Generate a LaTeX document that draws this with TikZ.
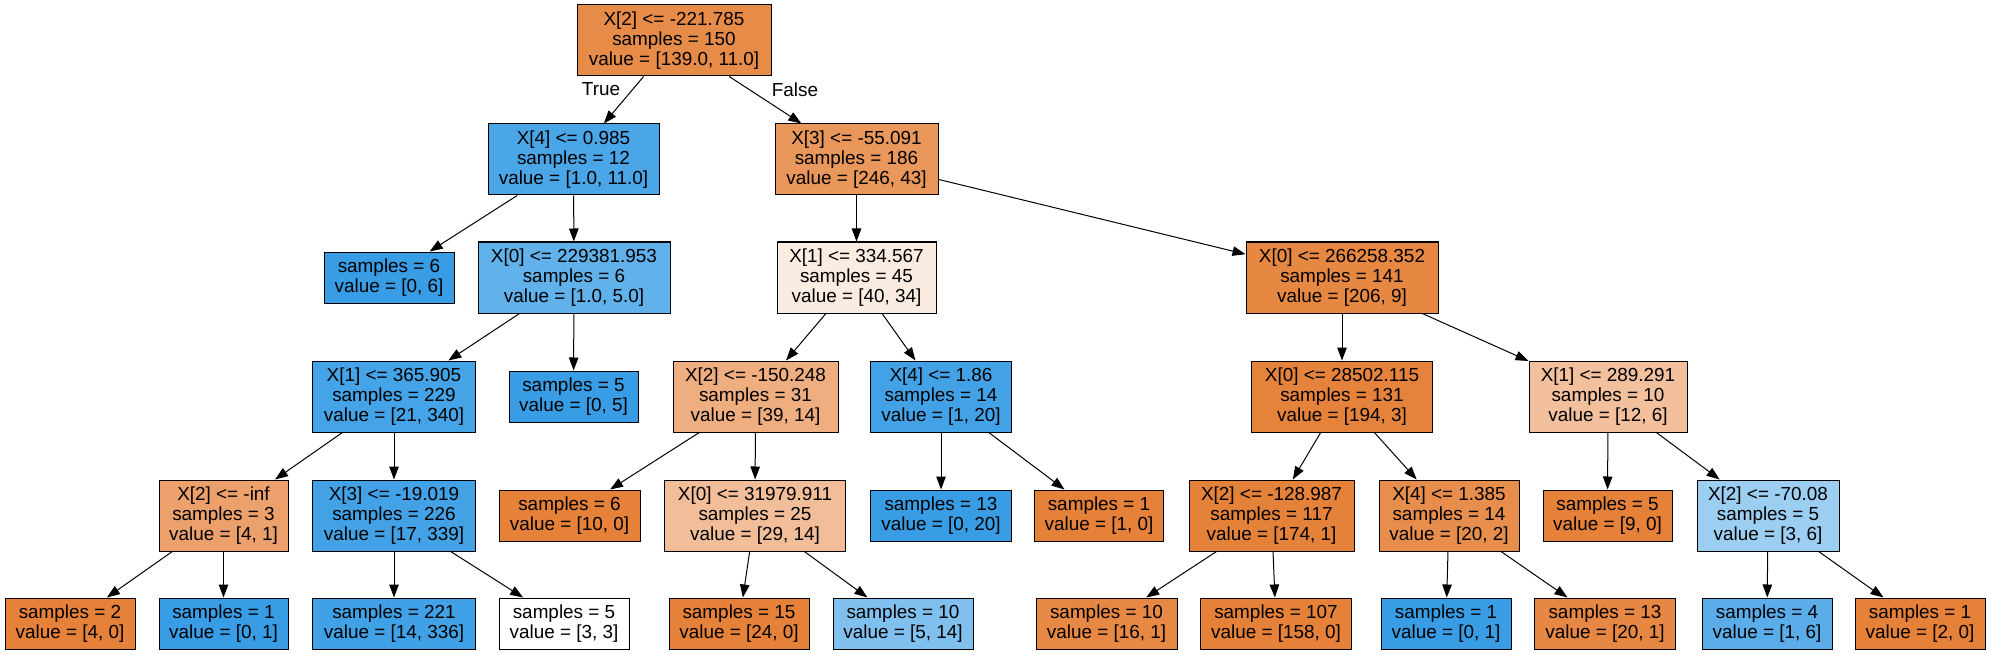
\documentclass[tikz,border=0pt]{standalone}
\usepackage{fontspec}
\setmainfont{Liberation Sans}
\usetikzlibrary{arrows.meta}
\definecolor{OR}{RGB}{229,129,57}
\definecolor{BL}{RGB}{57,157,229}
\definecolor{c0}{RGB}{231,139,73}
\definecolor{c1}{RGB}{75,166,231}
\definecolor{c2}{RGB}{234,151,92}
\definecolor{c4}{RGB}{97,177,234}
\definecolor{c5}{RGB}{251,236,225}
\definecolor{c6}{RGB}{230,135,66}
\definecolor{c7}{RGB}{69,163,231}
\definecolor{c9}{RGB}{238,174,128}
\definecolor{c10}{RGB}{67,162,230}
\definecolor{c11}{RGB}{229,131,60}
\definecolor{c12}{RGB}{242,192,156}
\definecolor{c13}{RGB}{236,160,107}
\definecolor{c14}{RGB}{67,162,230}
\definecolor{c16}{RGB}{242,190,153}
\definecolor{c19}{RGB}{229,130,58}
\definecolor{c20}{RGB}{232,142,77}
\definecolor{c22}{RGB}{156,206,242}
\definecolor{c25}{RGB}{65,161,230}
\definecolor{c28}{RGB}{128,192,238}
\definecolor{c29}{RGB}{231,137,69}
\definecolor{c32}{RGB}{230,135,67}
\definecolor{c33}{RGB}{90,173,233}
\tikzset{
  box/.style={draw=black, line width=1pt, inner sep=0pt, align=center,
    font=\fontsize{18.9}{20}\selectfont},
  b3/.style={box, minimum height=71pt},
  b2/.style={box, minimum height=51pt},
  edge/.style={draw=black, line width=1pt, -{Triangle[length=13pt,width=9.5pt]}},
  elab/.style={font=\fontsize{18.9}{20}\selectfont, inner sep=0pt}
}
\begin{document}
\begin{tikzpicture}[x=1pt,y=-1pt]
\useasboundingbox (0,0) rectangle (1989,655);
% level 0
\node[b3, fill=c0, minimum width=194pt] (n0) at (674,40.5) {X[2] <= -221.785\\samples = 150\\value = [139.0, 11.0]};
% level 1
\node[b3, fill=c1, minimum width=171pt] (n1) at (573.5,159.5) {X[4] <= 0.985\\samples = 12\\value = [1.0, 11.0]};
\node[b3, fill=c2, minimum width=163pt] (n2) at (856.5,159.5) {X[3] <= -55.091\\samples = 186\\value = [246, 43]};
% level 2
\node[b2, fill=BL, minimum width=130pt] (n3) at (389,277.5) {samples = 6\\value = [0, 6]};
\node[b3, fill=c4, minimum width=192pt] (n4) at (574,277.5) {X[0] <= 229381.953\\samples = 6\\value = [1.0, 5.0]};
\node[b3, fill=c5, minimum width=159pt] (n5) at (856.5,277.5) {X[1] <= 334.567\\samples = 45\\value = [40, 34]};
\node[b3, fill=c6, minimum width=192pt] (n6) at (1342,277.5) {X[0] <= 266258.352\\samples = 141\\value = [206, 9]};
% level 3
\node[b3, fill=c7, minimum width=163pt] (n7) at (394,396.5) {X[1] <= 365.905\\samples = 229\\value = [21, 340]};
\node[b2, fill=BL, minimum width=129pt] (n8) at (573.5,396.5) {samples = 5\\value = [0, 5]};
\node[b3, fill=c9, minimum width=165pt] (n9) at (755.5,396.5) {X[2] <= -150.248\\samples = 31\\value = [39, 14]};
\node[b3, fill=c10, minimum width=141pt] (n10) at (941,396.5) {X[4] <= 1.86\\samples = 14\\value = [1, 20]};
\node[b3, fill=c11, minimum width=181pt] (n11) at (1342,396.5) {X[0] <= 28502.115\\samples = 131\\value = [194, 3]};
\node[b3, fill=c12, minimum width=158pt] (n12) at (1608,396.5) {X[1] <= 289.291\\samples = 10\\value = [12, 6]};
% level 4
\node[b3, fill=c13, minimum width=129pt] (n13) at (223.5,515.5) {X[2] <= -inf\\samples = 3\\value = [4, 1]};
\node[b3, fill=c14, minimum width=163pt] (n14) at (394,515.5) {X[3] <= -19.019\\samples = 226\\value = [17, 339]};
\node[b2, fill=OR, minimum width=141pt] (n15) at (569.5,515.5) {samples = 6\\value = [10, 0]};
\node[b3, fill=c16, minimum width=181pt] (n16) at (755,515.5) {X[0] <= 31979.911\\samples = 25\\value = [29, 14]};
\node[b2, fill=BL, minimum width=141pt] (n17) at (941,515.5) {samples = 13\\value = [0, 20]};
\node[b2, fill=OR, minimum width=129pt] (n18) at (1099,515.5) {samples = 1\\value = [1, 0]};
\node[b3, fill=c19, minimum width=165pt] (n19) at (1271.5,515.5) {X[2] <= -128.987\\samples = 117\\value = [174, 1]};
\node[b3, fill=c20, minimum width=140pt] (n20) at (1449,515.5) {X[4] <= 1.385\\samples = 14\\value = [20, 2]};
\node[b2, fill=OR, minimum width=129pt] (n21) at (1607.5,515.5) {samples = 5\\value = [9, 0]};
\node[b3, fill=c22, minimum width=142pt] (n22) at (1768,515.5) {X[2] <= -70.08\\samples = 5\\value = [3, 6]};
% level 5
\node[b2, fill=OR, minimum width=130pt] (n23) at (70,623.5) {samples = 2\\value = [4, 0]};
\node[b2, fill=BL, minimum width=129pt] (n24) at (223.5,623.5) {samples = 1\\value = [0, 1]};
\node[b2, fill=c25, minimum width=163pt] (n25) at (394,623.5) {samples = 221\\value = [14, 336]};
\node[b2, fill=white, minimum width=130pt] (n26) at (564,623.5) {samples = 5\\value = [3, 3]};
\node[b2, fill=OR, minimum width=140pt] (n27) at (739,623.5) {samples = 15\\value = [24, 0]};
\node[b2, fill=c28, minimum width=140pt] (n28) at (903,623.5) {samples = 10\\value = [5, 14]};
\node[b2, fill=c29, minimum width=141pt] (n29) at (1106.5,623.5) {samples = 10\\value = [16, 1]};
\node[b2, fill=OR, minimum width=151pt] (n30) at (1276,623.5) {samples = 107\\value = [158, 0]};
\node[b2, fill=BL, minimum width=130pt] (n31) at (1446,623.5) {samples = 1\\value = [0, 1]};
\node[b2, fill=c32, minimum width=141pt] (n32) at (1605,623.5) {samples = 13\\value = [20, 1]};
\node[b2, fill=c33, minimum width=130pt] (n33) at (1767,623.5) {samples = 4\\value = [1, 6]};
\node[b2, fill=OR, minimum width=130pt] (n34) at (1920,623.5) {samples = 1\\value = [2, 0]};
% edges
\draw[edge] (n0) -- (n1);
\draw[edge] (n0) -- (n2);
\draw[edge] (n1) -- (n3);
\draw[edge] (n1) -- (n4);
\draw[edge] (n4) -- (n7);
\draw[edge] (n4) -- (n8);
\draw[edge] (n7) -- (n13);
\draw[edge] (n7) -- (n14);
\draw[edge] (n13) -- (n23);
\draw[edge] (n13) -- (n24);
\draw[edge] (n14) -- (n25);
\draw[edge] (n14) -- (n26);
\draw[edge] (n2) -- (n5);
\draw[edge] (n2) -- (n6);
\draw[edge] (n5) -- (n9);
\draw[edge] (n5) -- (n10);
\draw[edge] (n9) -- (n15);
\draw[edge] (n9) -- (n16);
\draw[edge] (n16) -- (n27);
\draw[edge] (n16) -- (n28);
\draw[edge] (n10) -- (n17);
\draw[edge] (n10) -- (n18);
\draw[edge] (n6) -- (n11);
\draw[edge] (n6) -- (n12);
\draw[edge] (n11) -- (n19);
\draw[edge] (n11) -- (n20);
\draw[edge] (n19) -- (n29);
\draw[edge] (n19) -- (n30);
\draw[edge] (n20) -- (n31);
\draw[edge] (n20) -- (n32);
\draw[edge] (n12) -- (n21);
\draw[edge] (n12) -- (n22);
\draw[edge] (n22) -- (n33);
\draw[edge] (n22) -- (n34);
% edge labels
\node[elab] (lt) at (601,89) {True};
\node[elab] (lf) at (795,90) {False};
\end{tikzpicture}
\end{document}
